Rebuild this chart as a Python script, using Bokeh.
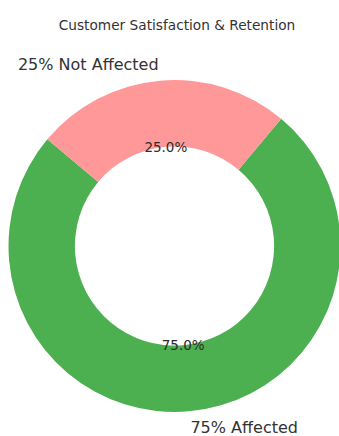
import math
from bokeh.plotting import figure
from bokeh.models import ColumnDataSource, Range1d, Label
from bokeh.core.properties import value
from bokeh.embed import file_html
from bokeh.resources import INLINE

# data
categories = ["Affected", "Not Affected"]
shares = [75, 25]
colors = ["#4CAF50", "#FF9999"]
outer_labels = ["75% Affected", "25% Not Affected"]
title_text = "Customer Satisfaction & Retention"

START_DEG = 140.0
total = float(sum(shares))
starts, ends, mids = [], [], []
a = math.radians(START_DEG)
for s in shares:
    span = 2 * math.pi * s / total
    starts.append(a)
    ends.append(a + span)
    mids.append(a + span / 2)
    a += span

W, H = 339, 436
PX = 166.0  # pixels per unit radius
cx_px, cy_px = 174.0, 245.5  # center in canvas pixels (from top-left)

p = figure(width=W, height=H, output_backend="svg", toolbar_location=None,
           x_range=Range1d(-cx_px / PX, (W - cx_px) / PX),
           y_range=Range1d(-(H - cy_px) / PX, cy_px / PX),
           min_border=0, outline_line_color=None)
p.axis.visible = False
p.grid.visible = False
p.background_fill_color = "white"
p.border_fill_color = "white"

src = ColumnDataSource(dict(cat=categories, start=starts, end=ends, color=colors))
p.annular_wedge(x=0, y=0, inner_radius=0.6, outer_radius=1.0,
                start_angle="start", end_angle="end", fill_color="color",
                line_color=None, source=src)

# percent labels at 0.6 radius
pct = ["%.1f%%" % (100.0 * s / total) for s in shares]
px = [0.6 * math.cos(m) for m in mids]
py = [0.6 * math.sin(m) for m in mids]
p.text(x=px, y=py, text=pct, text_align="center", text_baseline="middle",
       text_font=value("DejaVu Sans"), text_font_size="13.5px", text_color="#2b2b2b")

# outer labels at 1.1 radius
lx = [1.1 * math.cos(m) for m in mids]
ly = [1.1 * math.sin(m) for m in mids]
aligns = ["left" if x >= 0 else "right" for x in lx]
lsrc = ColumnDataSource(dict(x=lx, y=ly, t=outer_labels, al=aligns))
p.text(x="x", y="y", text="t", text_align="al", text_baseline="middle",
       text_font=value("DejaVu Sans"), text_font_size="16px", text_color="#333333",
       source=lsrc)

p.add_layout(Label(x=W / 2 + 7, y=H - 24, x_units="screen", y_units="screen",
                   text=title_text, text_align="center", text_baseline="alphabetic",
                   text_font="DejaVu Sans", text_font_size="13.7px", text_color="#333333"))

open("out.html", "w").write(file_html(p, INLINE))
